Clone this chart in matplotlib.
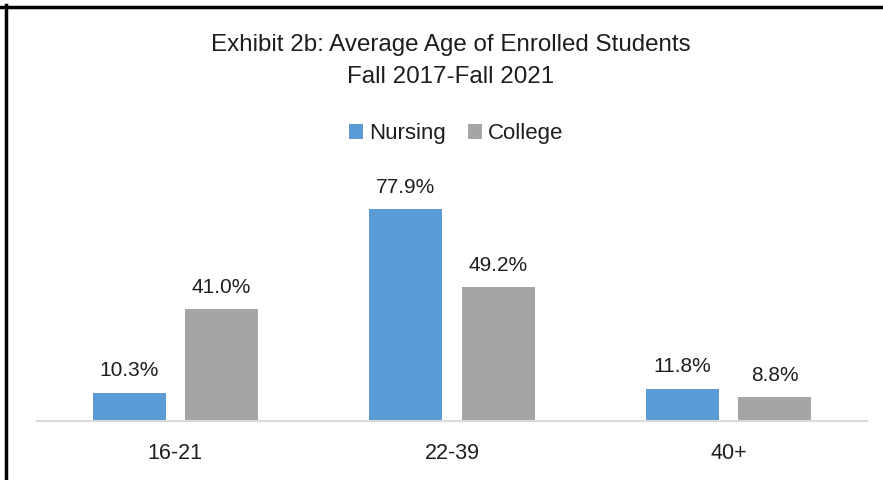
import matplotlib.pyplot as plt
import numpy as np
from matplotlib.lines import Line2D

categories = ['16-21', '22-39', '40+']
nursing = [10.3, 77.9, 11.8]
college = [41.0, 49.2, 8.8]

plt.rcParams['font.family'] = ['Liberation Sans', 'DejaVu Sans']
txt = '#1e1e1e'

W, H = 883, 480
fig = plt.figure(figsize=(W / 100, H / 100), dpi=100)

# plot area in pixels: x 37..867, axis line at y=421
left, right = 37, 867
bottom_px = 421
ymax = 90
px_per = 2.72
top_px = bottom_px - ymax * px_per
ax = fig.add_axes([left / W, 1 - bottom_px / H, (right - left) / W, (bottom_px - top_px) / H])

x = np.arange(len(categories))
bw = 0.264
gap = 0.069
off = (bw + gap) / 2
b1 = ax.bar(x - off, nursing, bw, color='#5B9BD5', label='Nursing')
b2 = ax.bar(x + off, college, bw, color='#A5A5A5', label='College')

for bars, vals in [(b1, nursing), (b2, college)]:
    for r, v in zip(bars, vals):
        ax.annotate(f'{v:.1f}%', (r.get_x() + r.get_width() / 2, v),
                    xytext=(0, 9), textcoords='offset points',
                    ha='center', va='bottom', fontsize=15, color=txt)

ax.set_xlim(-0.5, 2.5)
ax.set_ylim(0, ymax)
ax.set_xticks(x)
ax.set_xticklabels(categories, fontsize=15.5, color=txt)
ax.tick_params(axis='x', length=0, pad=16)
ax.set_yticks([])
for s in ['top', 'right', 'left']:
    ax.spines[s].set_visible(False)
ax.spines['bottom'].set_color('#D9D9D9')
ax.spines['bottom'].set_linewidth(1.5)

tx = 451 / W
fig.text(tx, 1 - 45 / H, 'Exhibit 2b: Average Age of Enrolled Students',
         ha='center', va='center', fontsize=17.4, color=txt)
fig.text(tx, 1 - 77 / H, 'Fall 2017-Fall 2021',
         ha='center', va='center', fontsize=17.4, color=txt)

fig.legend(handles=[b1, b2], labels=['Nursing', 'College'], loc='center',
           bbox_to_anchor=(456 / W, 1 - 134 / H), ncol=2, frameon=False,
           fontsize=16, handlelength=0.65, handleheight=0.65, handletextpad=0.25,
           columnspacing=1.0, labelcolor=txt)

# border on top and left
fig.add_artist(Line2D([0, 1], [1 - 6.5 / H, 1 - 6.5 / H], color='black', lw=2.5,
                      transform=fig.transFigure))
fig.add_artist(Line2D([6 / W, 6 / W], [0, 1 - 5 / H], color='black', lw=2.5,
                      transform=fig.transFigure))

fig.savefig('out.png', dpi=100)
